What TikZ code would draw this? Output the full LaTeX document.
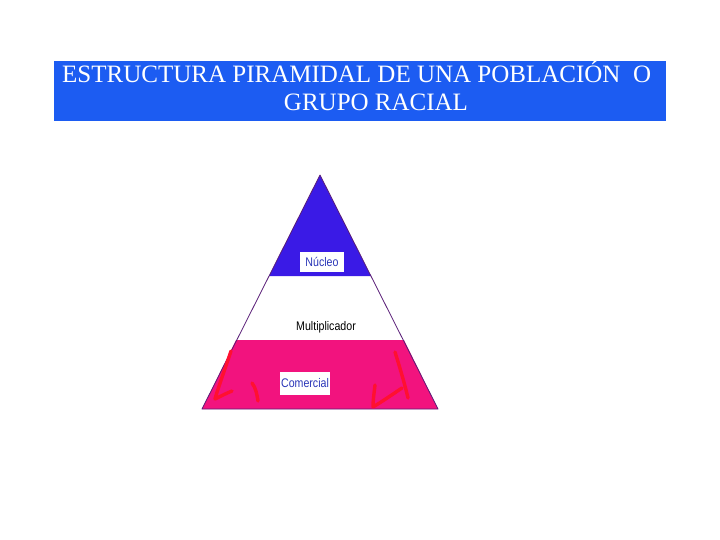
\documentclass[tikz,border=0pt]{standalone}
\usepackage{fontspec}
\setmainfont{Liberation Serif}
\newfontfamily\labelfont{Liberation Sans}
\definecolor{titleblue}{HTML}{1C5CF2}
\definecolor{topblue}{HTML}{3A1AE6}
\definecolor{pinkband}{HTML}{F2137E}
\definecolor{edgepurple}{HTML}{5A1E78}
\definecolor{scribred}{HTML}{FF1030}
\definecolor{labelblue}{HTML}{2A36B8}
\tikzset{
  titletext/.style={text=white,font=\fontsize{25}{30}\selectfont,inner sep=0pt},
  lbl/.style={font=\labelfont\fontsize{12.5}{14}\selectfont,inner sep=1.5pt},
  scrib/.style={draw=scribred,line width=3.4pt,line cap=round,line join=round},
}
\begin{document}
\begin{tikzpicture}[x=1pt,y=-1pt]
\useasboundingbox[fill=white] (0,0) rectangle (720,540);
% title
\fill[titleblue] (54,61) rectangle (666,121);
\node[titletext,anchor=base west] (t1) at (62,83) {ESTRUCTURA PIRAMIDAL DE UNA POBLACIÓN\ \ O};
\node[titletext,anchor=base] (t2) at (376,111) {GRUPO RACIAL};
% pyramid
\coordinate (apex) at (320,175);
\coordinate (bl) at (202,409);
\coordinate (br) at (438,409);
\fill[topblue] (apex) -- (269,276) -- (371,276) -- cycle;
\fill[pinkband] (236,340) -- (404,340) -- (br) -- (bl) -- cycle;
\draw[edgepurple,line width=0.8pt,line join=round] (apex) -- (bl) -- (br) -- cycle;
% red scribbles
\draw[scrib] (231,351) .. controls (224,372) and (218,388) .. (215,399) .. controls (221,396) and (227,393) .. (232,391);
\draw[scrib] (252,383) .. controls (256,388) and (257,395) .. (258,401);
\draw[scrib] (395,352) .. controls (400,368) and (405,385) .. (408,398);
\draw[scrib] (375,385) .. controls (374,394) and (373,400) .. (373,407) .. controls (383,401) and (393,394) .. (402,388);
% labels
\fill[topblue] (310,271) rectangle (316,276);
\node[lbl,fill=white,text=labelblue,minimum width=44pt,minimum height=20pt] (nuc) at (322,262) {\scalebox{0.85}[1]{Núcleo}};
\node[lbl,text=black] (mul) at (326,327) {\scalebox{0.85}[1]{Multiplicador}};
\node[lbl,fill=white,text=labelblue,minimum width=50pt,minimum height=23pt] (com) at (305,383) {\scalebox{0.85}[1]{Comercial}};
\end{tikzpicture}
\end{document}
